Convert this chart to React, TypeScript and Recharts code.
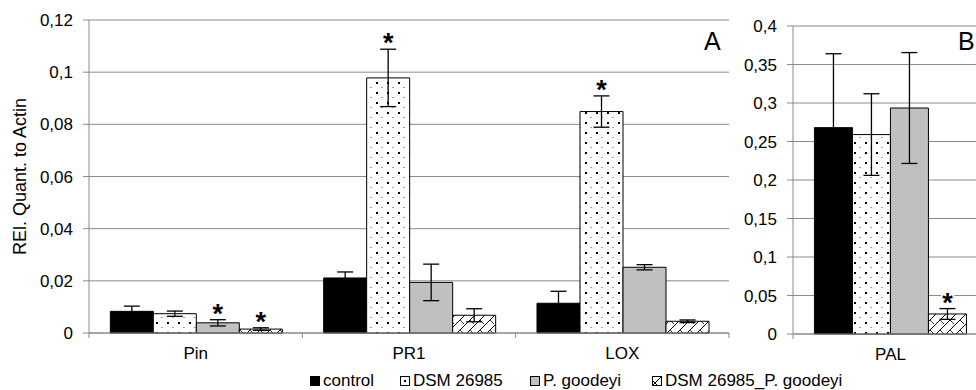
import { BarChart, Bar, XAxis, YAxis, CartesianGrid, ErrorBar, LabelList } from "recharts";

// panel A
const genesA = ["Pin", "PR1", "LOX"];
const controlA = [0.0083, 0.0211, 0.0114];
const controlErrA = [0.002, 0.0023, 0.0046];
const dsmA = [0.0074, 0.0978, 0.0849];
const dsmErrA = [0.001, 0.011, 0.006];
const goodeyiA = [0.0039, 0.0194, 0.0252];
const goodeyiErrA = [0.0012, 0.007, 0.001];
const mixA = [0.0015, 0.0068, 0.0045];
const mixErrA = [0.0005, 0.0025, 0.0005];
const controlStarA = [false, false, false];
const dsmStarA = [false, true, true];
const goodeyiStarA = [true, false, false];
const mixStarA = [true, false, false];
const ticksA = [0, 0.02, 0.04, 0.06, 0.08, 0.1, 0.12];

// panel B
const genesB = ["PAL"];
const controlB = [0.268];
const controlErrB = [0.096];
const dsmB = [0.259];
const dsmErrB = [0.053];
const goodeyiB = [0.2935];
const goodeyiErrB = [0.072];
const mixB = [0.026];
const mixErrB = [0.007];
const controlStarB = [false];
const dsmStarB = [false];
const goodeyiStarB = [false];
const mixStarB = [true];
const ticksB = [0, 0.05, 0.1, 0.15, 0.2, 0.25, 0.3, 0.35, 0.4];

const legendNames = ["control", "DSM 26985", "P. goodeyi", "DSM 26985_P. goodeyi"];
const legendLeft = [310, 400, 530, 652];

const FONT = "'Liberation Sans', Arial, sans-serif";
const GRID = "#8a8a8a";
const TICK_SIZE = 5;
const TICK_MARGIN = 9;
const FS = 17;

const buildRows = (
  genes: string[],
  c: number[], ce: number[],
  d: number[], de: number[],
  g: number[], ge: number[],
  m: number[], me: number[]
) =>
  genes.map((gene, i) => ({
    gene,
    control: c[i], controlErr: ce[i],
    dsm: d[i], dsmErr: de[i],
    goodeyi: g[i], goodeyiErr: ge[i],
    mix: m[i], mixErr: me[i],
  }));

const dataA = buildRows(genesA, controlA, controlErrA, dsmA, dsmErrA, goodeyiA, goodeyiErrA, mixA, mixErrA);
const dataB = buildRows(genesB, controlB, controlErrB, dsmB, dsmErrB, goodeyiB, goodeyiErrB, mixB, mixErrB);

const fmt = (v: number) => String(v).replace(".", ",");

// star above the error bar, placed from the bar's own scale
const makeStar = (vals: number[], errs: number[], stars: boolean[]) => (props: any) => {
  const { x, y, width, height, index } = props;
  if (!stars[index] || !vals[index]) return null;
  const errTop = y - (errs[index] * height) / vals[index];
  return (
    <text
      x={x + width / 2}
      y={errTop + 3}
      textAnchor="middle"
      fontSize={27}
      fontWeight="bold"
      fontFamily={FONT}
      fill="#000"
      stroke="#fff"
      strokeWidth={4}
      paintOrder="stroke"
    >
      *
    </text>
  );
};

// category label with Excel-like tick marks on the band edges
const CategoryTick = (props: any) => {
  const { x, y, payload, index, count } = props;
  const axisY = y - TICK_SIZE - TICK_MARGIN;
  const half = payload.offset || 0;
  return (
    <g>
      <line x1={x - half} x2={x - half} y1={axisY} y2={axisY + TICK_SIZE} stroke={GRID} />
      {index === count - 1 && (
        <line x1={x + half} x2={x + half} y1={axisY} y2={axisY + TICK_SIZE} stroke={GRID} />
      )}
      <text x={x} y={y} dy="0.71em" textAnchor="middle" fontSize={FS} fontFamily={FONT} fill="#000">
        {payload.value}
      </text>
    </g>
  );
};

const Patterns = ({ p }: { p: string }) => (
  <defs>
    <pattern id={`${p}dots`} width={11} height={10} patternUnits="userSpaceOnUse">
      <rect width={11} height={10} fill="#fff" />
      <rect x={2} y={2} width={2} height={2} fill="#000" />
      <rect x={7.5} y={7} width={1} height={1} fill="#444" />
    </pattern>
    <pattern id={`${p}hatch`} width={10} height={10} patternUnits="userSpaceOnUse">
      <rect width={10} height={10} fill="#fff" />
      <path d="M0,10 L10,0 M-2,2 L2,-2 M8,12 L12,8" stroke="#000" strokeWidth={1} />
      <path d="M0,0 L4,4" stroke="#000" strokeWidth={0.8} />
    </pattern>
  </defs>
);

const tickStyle = { fontSize: FS, fontFamily: FONT, fill: "#000" };

const renderSeries = (
  p: string,
  stars: { c: boolean[]; d: boolean[]; g: boolean[]; m: boolean[] },
  vals: { c: number[]; d: number[]; g: number[]; m: number[] },
  errs: { c: number[]; d: number[]; g: number[]; m: number[] }
) => [
  <Bar key="c" dataKey="control" fill="#000" stroke="#000" isAnimationActive={false}>
    <ErrorBar dataKey="controlErr" width={8} stroke="#000" strokeWidth={1.3} direction="y" />
    <LabelList dataKey="control" content={makeStar(vals.c, errs.c, stars.c)} />
  </Bar>,
  <Bar key="d" dataKey="dsm" fill={`url(#${p}dots)`} stroke="#000" isAnimationActive={false}>
    <ErrorBar dataKey="dsmErr" width={8} stroke="#000" strokeWidth={1.3} direction="y" />
    <LabelList dataKey="dsm" content={makeStar(vals.d, errs.d, stars.d)} />
  </Bar>,
  <Bar key="g" dataKey="goodeyi" fill="#c0c0c0" stroke="#000" isAnimationActive={false}>
    <ErrorBar dataKey="goodeyiErr" width={8} stroke="#000" strokeWidth={1.3} direction="y" />
    <LabelList dataKey="goodeyi" content={makeStar(vals.g, errs.g, stars.g)} />
  </Bar>,
  <Bar key="m" dataKey="mix" fill={`url(#${p}hatch)`} stroke="#000" isAnimationActive={false}>
    <ErrorBar dataKey="mixErr" width={8} stroke="#000" strokeWidth={1.3} direction="y" />
    <LabelList dataKey="mix" content={makeStar(vals.m, errs.m, stars.m)} />
  </Bar>,
];

const LegendSwatch = ({ i }: { i: number }) => (
  <svg width={10} height={10} style={{ marginRight: 3 }}>
    {i === 0 && <rect x={0} y={0} width={10} height={10} fill="#000" />}
    {i === 1 && (
      <g>
        <rect x={0.5} y={0.5} width={9} height={9} fill="#fff" stroke="#000" />
        <rect x={4} y={4} width={2} height={2} fill="#000" />
      </g>
    )}
    {i === 2 && <rect x={0.5} y={0.5} width={9} height={9} fill="#c0c0c0" stroke="#000" />}
    {i === 3 && (
      <g>
        <rect x={0.5} y={0.5} width={9} height={9} fill="#fff" stroke="#000" />
        <path d="M1,9 L9,1 M1,5 L5,9" stroke="#000" strokeWidth={1} />
      </g>
    )}
  </svg>
);

export default function App() {
  return (
    <div
      style={{
        position: "fixed",
        left: 0,
        top: 0,
        width: 976,
        height: 390,
        overflow: "hidden",
        background: "#fff",
        fontFamily: FONT,
      }}
    >
      <div style={{ position: "absolute", left: 0, top: 0 }}>
        <BarChart
          width={740}
          height={390}
          data={dataA}
          margin={{ top: 20, right: 11, left: 0, bottom: 27 }}
          barCategoryGap="10%"
          barGap={0}
        >
          <Patterns p="a" />
          <CartesianGrid vertical={false} stroke={GRID} />
          <XAxis
            dataKey="gene"
            height={30}
            interval={0}
            axisLine={{ stroke: GRID }}
            tickLine={false}
            tickSize={TICK_SIZE}
            tickMargin={TICK_MARGIN}
            tick={<CategoryTick count={genesA.length} />}
          />
          <YAxis
            domain={[0, 0.12]}
            ticks={ticksA}
            width={89}
            tickFormatter={fmt}
            tick={tickStyle}
            tickSize={6}
            tickMargin={10}
            axisLine={{ stroke: GRID }}
            tickLine={{ stroke: GRID }}
            label={{
              value: "REl. Quant. to Actin",
              angle: -90,
              position: "insideLeft",
              offset: 20,
              style: { textAnchor: "middle", fontSize: 18, fontFamily: FONT, fill: "#000" },
            }}
          />
          <YAxis
            yAxisId="r"
            orientation="right"
            width={0}
            tick={false}
            tickLine={false}
            axisLine={{ stroke: GRID }}
          />
          {renderSeries(
            "a",
            { c: controlStarA, d: dsmStarA, g: goodeyiStarA, m: mixStarA },
            { c: controlA, d: dsmA, g: goodeyiA, m: mixA },
            { c: controlErrA, d: dsmErrA, g: goodeyiErrA, m: mixErrA }
          )}
          <text x={704} y={50} fontSize={25} fontFamily={FONT} fill="#000">
            A
          </text>
        </BarChart>
      </div>

      <div style={{ position: "absolute", left: 720, top: 0 }}>
        <BarChart
          width={278}
          height={390}
          data={dataB}
          margin={{ top: 26, right: 10, left: 0, bottom: 26 }}
          barCategoryGap="11%"
          barGap={0}
        >
          <Patterns p="b" />
          <CartesianGrid vertical={false} stroke={GRID} />
          <XAxis
            dataKey="gene"
            height={30}
            interval={0}
            axisLine={{ stroke: GRID }}
            tickLine={false}
            tickSize={TICK_SIZE}
            tickMargin={TICK_MARGIN}
            tick={<CategoryTick count={genesB.length} />}
          />
          <YAxis
            domain={[0, 0.4]}
            ticks={ticksB}
            width={73}
            tickFormatter={fmt}
            tick={tickStyle}
            tickSize={6}
            tickMargin={10}
            axisLine={{ stroke: GRID }}
            tickLine={{ stroke: GRID }}
          />
          {renderSeries(
            "b",
            { c: controlStarB, d: dsmStarB, g: goodeyiStarB, m: mixStarB },
            { c: controlB, d: dsmB, g: goodeyiB, m: mixB },
            { c: controlErrB, d: dsmErrB, g: goodeyiErrB, m: mixErrB }
          )}
          <text x={238} y={50} fontSize={25} fontFamily={FONT} fill="#000">
            B
          </text>
        </BarChart>
      </div>

      {legendNames.map((name, i) => (
        <div
          key={name}
          style={{
            position: "absolute",
            left: legendLeft[i],
            top: 371,
            height: 20,
            display: "flex",
            alignItems: "center",
            fontSize: FS,
            lineHeight: "20px",
            color: "#000",
            whiteSpace: "nowrap",
          }}
        >
          <LegendSwatch i={i} />
          <span>{name}</span>
        </div>
      ))}
    </div>
  );
}
